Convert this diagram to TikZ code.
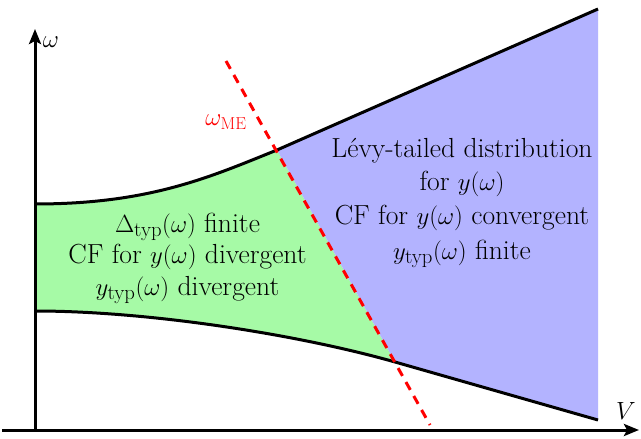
\documentclass[tikz,border=0pt]{standalone}
\usetikzlibrary{arrows.meta}
\definecolor{regA}{RGB}{166,250,166}
\definecolor{regB}{RGB}{179,179,255}
\begin{document}
\begin{tikzpicture}[x=1pt,y=-1pt,
  curve/.style={line width=3pt},
  axis/.style={line width=3pt,-{Stealth[length=15pt,width=12pt,inset=3pt]}},
  lbl/.style={font=\fontsize{27.6}{33}\selectfont,anchor=base,inner sep=0pt},
  redline/.style={red,line width=3pt,dash pattern=on 9pt off 7pt}]
\useasboundingbox (0,0) rectangle (641,439);
% regions
\fill[regA] (35,204) .. controls (150,204) and (210,177) .. (277,150)
  -- (395,362) .. controls (300,335) and (150,311) .. (35,311) -- cycle;
\fill[regB] (277,150) -- (598,9) -- (598,420) -- (395,362) -- cycle;
% curves
\draw[curve] (35,204) .. controls (150,204) and (210,177) .. (277,150) -- (598,9);
\draw[curve] (35,311) .. controls (150,311) and (300,335) .. (395,362) -- (598,420);
% red line
\coordinate (ra) at (226,61);
\coordinate (rb) at (430,425);
\draw[redline] (ra) -- (rb);
\node[red,font=\fontsize{26}{30}\selectfont] (wme) at (226,122) {$\omega_{\mathrm{ME}}$};
% axes
\coordinate (o) at (35,430);
\coordinate (ytop) at (35,29);
\coordinate (xend) at (639,430);
\coordinate (xstart) at (2,430);
\draw[axis] (o) -- (ytop);
\draw[axis] (xstart) -- (xend);
\node[font=\fontsize{26}{30}\selectfont] (w) at (51,42) {$\omega$};
\node[font=\fontsize{26}{30}\selectfont] (V) at (626,411) {$V$};
% texts
\node[lbl] (l1) at (187.5,232) {$\Delta_{\mathrm{typ}}(\omega)$ finite};
\node[lbl] (l2) at (187.5,263) {CF for $y(\omega)$ divergent};
\node[lbl] (l3) at (187.5,295.5) {$y_{\mathrm{typ}}(\omega)$ divergent};
\node[lbl] (r1) at (462,157) {Lévy-tailed distribution};
\node[lbl] (r2) at (462,190) {for $y(\omega)$};
\node[lbl] (r3) at (462,224.5) {CF for $y(\omega)$ convergent};
\node[lbl] (r4) at (462,259) {$y_{\mathrm{typ}}(\omega)$ finite};
\end{tikzpicture}
\end{document}
